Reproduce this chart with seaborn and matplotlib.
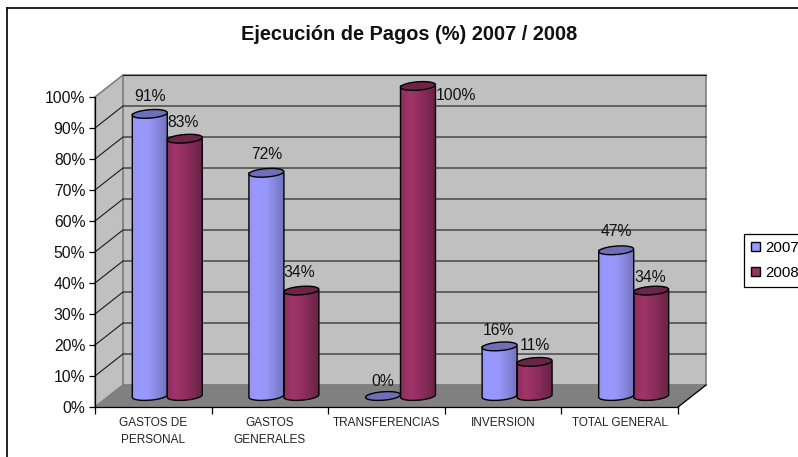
import numpy as np
import pandas as pd
import seaborn as sns
import matplotlib.pyplot as plt
from matplotlib.colors import LinearSegmentedColormap
from matplotlib.lines import Line2D
from matplotlib.patches import Polygon

# Values
categories = ["GASTOS DE\nPERSONAL", "GASTOS\nGENERALES", "TRANSFERENCIAS", "INVERSION", "TOTAL GENERAL"]
values_2007 = [91, 72, 0, 16, 47]
values_2008 = [83, 34, 100, 11, 34]
years = ["2007", "2008"]
y_ticks = [0, 10, 20, 30, 40, 50, 60, 70, 80, 90, 100]

# Label nudges in pixels, 2007 first then 2008
label_dx = [0, 0, 0, -1, 0, -2, -2, 38, 0, -1]
label_dy = [17, 18, 15, 16, 19, 16, 18, -10, 16, 13]

W, H = 798, 457
colors = {"2007": "#9999FF", "2008": "#993366"}
shades = {
    "2007": ["#9494F8", "#9999FF", "#9696FA", "#8686DC", "#7373BE"],
    "2008": ["#902E5E", "#A03569", "#932F60", "#7E2A53", "#6A2348"],
}
tops = {"2007": "#6E6EBB", "2008": "#6E2349"}

plt.rcParams["font.family"] = ["Liberation Sans", "DejaVu Sans"]

df = pd.DataFrame({
    "category": categories * 2,
    "year": [years[0]] * 5 + [years[1]] * 5,
    "value": values_2007 + values_2008,
})

fig = plt.figure(figsize=(W / 100, H / 100), dpi=100)


def px_axes(left, bottom, right, top):
    return fig.add_axes([left / W, 1 - bottom / H, (right - left) / W, (bottom - top) / H])


# Front plane of the 3D box, and the plane halfway back where the bars stand
ax = px_axes(95, 407, 678, 97)
bars_ax = px_axes(109, 396, 692, 86)
bars_ax.set_zorder(ax.get_zorder() + 1)
bars_ax.patch.set_alpha(0)

ax.set_xlim(-0.5, 4.5)
ax.set_ylim(0, 100)
ax.patch.set_alpha(0)
depth_x = 28 / 583 * 5
depth_y = 22 / 310 * 100
x0, x1 = -0.5, 4.5

# walls and floor
ax.add_patch(Polygon([(x0 + depth_x, depth_y), (x1 + depth_x, depth_y), (x1 + depth_x, 100 + depth_y), (x0 + depth_x, 100 + depth_y)],
                     fc="#C0C0C0", ec="#808080", lw=1.2, clip_on=False, zorder=0))
ax.add_patch(Polygon([(x0, 0), (x0 + depth_x, depth_y), (x0 + depth_x, 100 + depth_y), (x0, 100)],
                     fc="#C0C0C0", ec="#808080", lw=1.2, clip_on=False, zorder=0))
ax.add_patch(Polygon([(x0, 0), (x1, 0), (x1 + depth_x, depth_y), (x0 + depth_x, depth_y)],
                     fc="#808080", ec="#808080", lw=0.8, clip_on=False, zorder=0.5))
for t in y_ticks[1:-1]:
    ax.plot([x0, x0 + depth_x, x1 + depth_x], [t, t + depth_y, t + depth_y], color="#1a1a1a", lw=0.8, clip_on=False, zorder=0.4)
ax.plot([x0 + depth_x, x1 + depth_x], [100 + depth_y, 100 + depth_y], color="#1a1a1a", lw=0.8, clip_on=False, zorder=0.4)
ax.plot([x1, x1 + depth_x], [0, depth_y], color="black", lw=0.9, clip_on=False, zorder=0.6)

for side in ["top", "right"]:
    ax.spines[side].set_visible(False)
ax.spines["left"].set_linewidth(0.9)
ax.spines["bottom"].set_linewidth(0.9)
ax.spines["left"].set_zorder(0.7)

ax.set_yticks(y_ticks)
ax.set_yticklabels([f"{t}%" for t in y_ticks], fontsize=11.3, color="#111111")
ax.set_xticks(np.arange(-0.5, 5))
ax.set_xticklabels([])
ax.set_xticks(np.arange(5), minor=True)
ax.set_xticklabels(categories, minor=True, fontsize=8.5, color="#222222", linespacing=1.5)
ax.tick_params(axis="y", length=4, width=0.9, pad=3)
ax.tick_params(axis="x", which="major", length=5, width=0.9)
ax.tick_params(axis="x", which="minor", length=0, pad=7.5)

# Bars
sns.barplot(data=df, x="category", y="value", hue="year", palette=colors, width=0.6,
            dodge=True, ax=bars_ax, saturation=1)
bars_ax.set_xlim(-0.5, 4.5)
bars_ax.set_ylim(0, 100)
handles, labels = bars_ax.get_legend_handles_labels()
bars_ax.get_legend().remove()

ell_h = 4.2 / 310 * 100
tilt = 1.3 / 310 * 100
t_arc = np.linspace(0, np.pi, 30)
idx = 0
for year, container in zip(years, bars_ax.containers):
    cmap = LinearSegmentedColormap.from_list(year, shades[year])
    for bar in container:
        x, w, h = bar.get_x(), bar.get_width(), bar.get_height()
        bar.set_visible(False)
        xs = x + w * (0.5 + 0.5 * np.cos(t_arc))
        low = -ell_h * np.sin(t_arc) + tilt * np.cos(t_arc)
        top_y = ell_h * np.sin(t_arc) + tilt * np.cos(t_arc)
        if h > 0:
            # body: straight sides with a rounded bottom, filled with a sideways gradient
            body = Polygon(np.column_stack([np.r_[x, xs[::-1], x + w], np.r_[h, low[::-1], h]]),
                           fc="none", ec="black", lw=1.0, zorder=4, clip_on=False)
            bars_ax.add_patch(body)
            img = bars_ax.imshow(np.linspace(0, 1, 64)[None, :], cmap=cmap, aspect="auto",
                                 extent=(x, x + w, -ell_h - tilt, h + tilt), zorder=3)
            img.set_clip_box(fig.bbox)
            img.set_clip_path(body)
        cap = Polygon(np.column_stack([np.r_[xs, xs[::-1]], h + np.r_[top_y, low[::-1]]]),
                      fc=tops[year], ec="black", lw=1.0, zorder=5, clip_on=False)
        bars_ax.add_patch(cap)
        bars_ax.annotate(f"{h:.0f}%", (x + w / 2, h), xytext=(label_dx[idx] * 0.72, label_dy[idx] * 0.72),
                         textcoords="offset points", ha="center", va="center", fontsize=11.3,
                         color="#111111", zorder=1, annotation_clip=False)
        idx += 1
bars_ax.set_xlim(-0.5, 4.5)
bars_ax.set_ylim(0, 100)
bars_ax.axis("off")

fig.text(409 / W, 1 - 34 / H, "Ejecución de Pagos (%) 2007 / 2008", ha="center", va="center",
         fontsize=14.4, fontweight="bold", color="#111111")

leg = fig.legend(handles, labels, loc="upper left", bbox_to_anchor=(744 / W, 1 - 234 / H),
                 borderaxespad=0, fontsize=10.8, fancybox=False, framealpha=1, edgecolor="black",
                 handlelength=0.6, handleheight=0.6, handletextpad=0.35, labelspacing=0.75,
                 borderpad=0.45)
leg.get_frame().set_linewidth(0.9)
for patch in leg.get_patches():
    patch.set_edgecolor("black")
    patch.set_linewidth(1.0)

# outer chart frame, only top and left fall inside the picture
fig.add_artist(Line2D([6.5 / W, 6.5 / W], [0, 1 - 7.5 / H], color="#111111", lw=1.3))
fig.add_artist(Line2D([6.5 / W, 1], [1 - 7.5 / H, 1 - 7.5 / H], color="#111111", lw=1.3))

fig.savefig("out.png", dpi=100)
